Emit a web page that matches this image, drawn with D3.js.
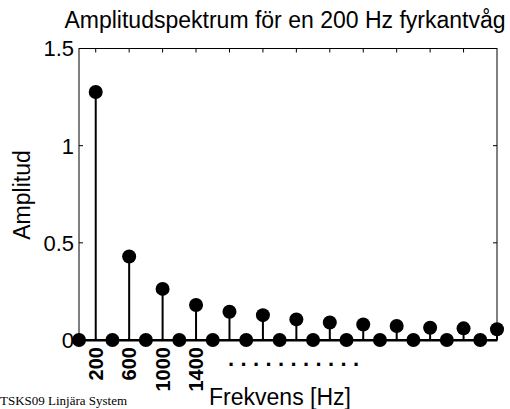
<!DOCTYPE html>
<html>
<head>
<meta charset="utf-8">
<script src="https://cdn.jsdelivr.net/npm/d3@7"></script>
<style>
  html, body { margin: 0; padding: 0; background: #fff; }
  svg { display: block; }
  text { font-family: "Liberation Sans", Arial, Helvetica, sans-serif; fill: #000; }
  text.footer { font-family: "Liberation Serif", "Times New Roman", serif; }
</style>
</head>
<body>
<svg id="chart" width="510" height="409"></svg>
<script>
// Frequencies of the spectrum lines (Hz)
const frequencies = [0, 200, 400, 600, 800, 1000, 1200, 1400, 1600, 1800, 2000, 2200, 2400,
                     2600, 2800, 3000, 3200, 3400, 3600, 3800, 4000, 4200, 4400, 4600, 4800, 5000];
// Amplitude of each line (only odd harmonics are non-zero)
const amplitudes = [0, 1.276, 0, 0.43, 0, 0.263, 0, 0.18, 0, 0.145, 0, 0.128, 0,
                    0.106, 0, 0.09, 0, 0.08, 0, 0.072, 0, 0.063, 0, 0.06, 0, 0.055];
// Tick positions
const xTicks = [200, 600, 1000, 1400, 1800, 2200, 2600, 3000, 3400, 3800, 4200, 4600];
const xTickLabels = ["200", "600", "1000", "1400"];
const yTicks = [0, 0.5, 1, 1.5];
const yTickLabels = ["0", "0.5", "1", "1.5"];

const titleText = "Amplitudspektrum för en 200 Hz fyrkantvåg";
const xLabel = "Frekvens [Hz]";
const yLabel = "Amplitud";
const footer = "TSKS09 Linjära System";

const svg = d3.select("#chart");
const plotLeft = 79, plotRight = 497, plotTop = 48.5, plotBottom = 340;

const x = d3.scaleLinear().domain([0, 5000]).range([plotLeft, plotRight]);
const y = d3.scaleLinear().domain([0, 1.5]).range([plotBottom, plotTop]);

// Frame
svg.append("rect")
  .attr("x", plotLeft).attr("y", plotTop)
  .attr("width", plotRight - plotLeft).attr("height", plotBottom + 1 - plotTop)
  .attr("fill", "none").attr("stroke", "#000").attr("stroke-width", 1);

// Inward ticks on all four sides
const tl = 4;
const g = svg.append("g").attr("stroke", "#000").attr("stroke-width", 1);
xTicks.forEach(t => {
  g.append("line").attr("x1", x(t)).attr("x2", x(t)).attr("y1", plotTop).attr("y2", plotTop + tl);
  g.append("line").attr("x1", x(t)).attr("x2", x(t)).attr("y1", plotBottom + 1).attr("y2", plotBottom + 1 - tl);
});
yTicks.slice(1, 3).forEach(t => {
  g.append("line").attr("x1", plotLeft).attr("x2", plotLeft + tl).attr("y1", y(t)).attr("y2", y(t));
  g.append("line").attr("x1", plotRight).attr("x2", plotRight - tl).attr("y1", y(t)).attr("y2", y(t));
});

// Y tick labels
yTicks.forEach((t, i) => {
  svg.append("text")
    .attr("x", plotLeft - 5).attr("y", y(t))
    .attr("dy", "0.36em")
    .attr("text-anchor", "end")
    .attr("font-size", 22)
    .text(yTickLabels[i]);
});

// X tick labels, rotated and bold
xTickLabels.forEach((lab, i) => {
  const xt = x(xTicks[i]);
  svg.append("text")
    .attr("transform", `translate(${xt + 7},347) rotate(-90)`)
    .attr("text-anchor", "end")
    .attr("font-size", 20)
    .attr("font-weight", "bold")
    .text(lab);
});

// Continuation dots
svg.append("text")
  .attr("x", 228).attr("y", 366)
  .attr("font-size", 22)
  .attr("font-weight", "bold")
  .attr("letter-spacing", "6.4px")
  .text("...........");

// Stem baseline
svg.append("line")
  .attr("x1", plotLeft).attr("x2", plotRight)
  .attr("y1", y(0)).attr("y2", y(0))
  .attr("stroke", "#000").attr("stroke-width", 2);

// Stems
const data = frequencies.map((f, i) => ({ f, a: amplitudes[i] }));
svg.append("g").selectAll("line").data(data).join("line")
  .attr("x1", d => x(d.f)).attr("x2", d => x(d.f))
  .attr("y1", y(0)).attr("y2", d => y(d.a))
  .attr("stroke", "#000").attr("stroke-width", 2);

// Markers
svg.append("g").selectAll("circle").data(data).join("circle")
  .attr("cx", d => x(d.f)).attr("cy", d => y(d.a))
  .attr("r", 7).attr("fill", "#000");

// Title
svg.append("text")
  .attr("x", 285).attr("y", 28)
  .attr("text-anchor", "middle")
  .attr("font-size", 23)
  .text(titleText);

// Axis labels
svg.append("text")
  .attr("x", 280).attr("y", 405)
  .attr("text-anchor", "middle")
  .attr("font-size", 23)
  .text(xLabel);

svg.append("text")
  .attr("transform", "translate(30,195) rotate(-90)")
  .attr("text-anchor", "middle")
  .attr("font-size", 23)
  .text(yLabel);

// Footer
svg.append("text")
  .attr("class", "footer")
  .attr("x", 0).attr("y", 405)
  .attr("font-size", 13)
  .text(footer);
</script>
</body>
</html>
